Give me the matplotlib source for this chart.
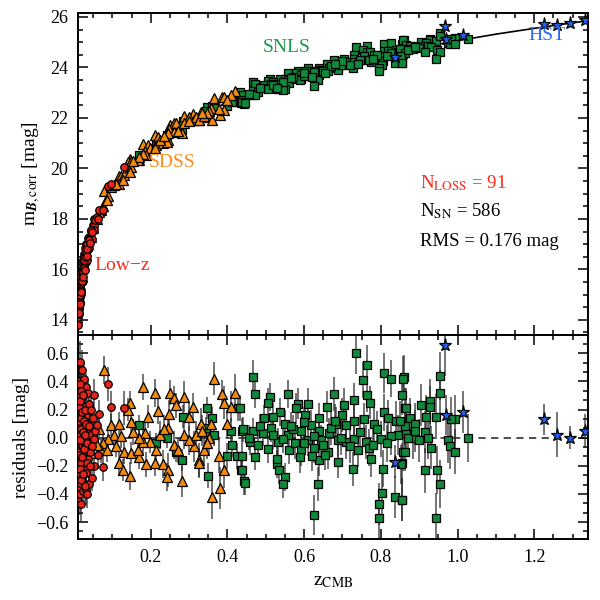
import numpy as np
import matplotlib
matplotlib.use('Agg')
import matplotlib.pyplot as plt
from matplotlib.ticker import MultipleLocator

plt.rcParams['font.family'] = ['Liberation Serif', 'DejaVu Serif']
plt.rcParams['mathtext.fontset'] = 'stix'

# best-fit model curve (z, m_B,corr)
model_z = [0.008, 0.01, 0.0125, 0.015, 0.02, 0.025, 0.03, 0.04, 0.05, 0.07, 0.1, 0.15,
           0.2, 0.3, 0.4, 0.5, 0.6, 0.7, 0.8, 0.9, 1.0, 1.1, 1.2, 1.3, 1.4]
model_m = [13.61, 14.10, 14.59, 14.99, 15.62, 16.11, 16.52, 17.16, 17.66, 18.42, 19.24, 20.19,
           20.89, 21.89, 22.62, 23.20, 23.69, 24.10, 24.46, 24.78, 25.06, 25.32, 25.55, 25.77, 25.97]

# Low-z sample: redshift, Hubble residual, error
lowz_z = [0.0105, 0.0108, 0.011, 0.011, 0.0115, 0.012, 0.012, 0.0125, 0.013, 0.013,
          0.0135, 0.014, 0.014, 0.015, 0.015, 0.016, 0.016, 0.017, 0.017, 0.018,
          0.018, 0.019, 0.020, 0.020, 0.021, 0.022, 0.022, 0.023, 0.023, 0.024,
          0.025, 0.026, 0.026, 0.027, 0.028, 0.029, 0.030, 0.031, 0.032, 0.032,
          0.033, 0.034, 0.035, 0.036, 0.037, 0.038, 0.040, 0.041, 0.043, 0.045,
          0.047, 0.049, 0.051, 0.052, 0.053, 0.056, 0.059, 0.062, 0.064, 0.075,
          0.088, 0.097, 0.131,
          0.0107, 0.0112, 0.0118, 0.0122, 0.0128, 0.0132, 0.0138, 0.0142, 0.0147, 0.0152,
          0.0158, 0.0163, 0.0168, 0.0175, 0.0182, 0.0188, 0.0195, 0.0205, 0.0215, 0.0225,
          0.0235, 0.0245, 0.0255, 0.0265, 0.0275, 0.0285, 0.0295, 0.031, 0.033, 0.035,
          0.039, 0.042, 0.044, 0.048]
lowz_res = [-0.30, -0.45, 0.10, -0.20, 0.25, -0.05, 0.35, -0.35, 0.15, -0.15,
            0.05, 0.30, -0.28, -0.08, 0.20, 0.40, -0.40, 0.54, 0.02, -0.18,
            0.12, -0.47, 0.28, -0.05, 0.08, 0.48, -0.30, -0.38, 0.18, -0.12,
            0.00, 0.42, -0.22, 0.22, 0.10, -0.06, 0.33, -0.25, 0.36, -0.37,
            0.05, -0.40, 0.15, 0.32, -0.15, 0.24, -0.33, 0.02, -0.10, 0.12,
            -0.29, 0.14, 0.30, -0.01, -0.20, 0.05, 0.09, -0.12, 0.17, -0.21,
            0.38, 0.22, 0.21,
            0.20, -0.10, 0.30, -0.25, 0.08, 0.22, -0.12, 0.12, -0.32, 0.38,
            -0.02, 0.26, -0.22, 0.14, -0.30, 0.06, 0.33, -0.14, 0.18, 0.04,
            -0.26, 0.30, -0.08, 0.12, -0.34, 0.20, 0.02, 0.10, -0.18, -0.04,
            0.08, -0.20, 0.20, -0.06]
lowz_err = [0.15, 0.18, 0.15, 0.14, 0.16, 0.12, 0.17, 0.15, 0.13, 0.12,
            0.12, 0.15, 0.14, 0.11, 0.12, 0.16, 0.15, 0.15, 0.10, 0.11,
            0.10, 0.12, 0.12, 0.09, 0.09, 0.14, 0.11, 0.12, 0.10, 0.09,
            0.08, 0.12, 0.10, 0.10, 0.09, 0.08, 0.11, 0.10, 0.10, 0.11,
            0.08, 0.10, 0.09, 0.10, 0.09, 0.09, 0.10, 0.08, 0.09, 0.09,
            0.09, 0.10, 0.12, 0.08, 0.09, 0.09, 0.09, 0.10, 0.10, 0.10,
            0.12, 0.11, 0.12,
            0.16, 0.15, 0.16, 0.15, 0.14, 0.14, 0.13, 0.13, 0.14, 0.15,
            0.12, 0.13, 0.12, 0.12, 0.13, 0.11, 0.12, 0.11, 0.11, 0.10,
            0.11, 0.11, 0.10, 0.10, 0.11, 0.10, 0.09, 0.09, 0.10, 0.09,
            0.09, 0.10, 0.09, 0.09]

# SDSS sample
sdss_z = [0.078, 0.179, 0.212, 0.251, 0.288, 0.366, 0.420, 0.387, 0.262, 0.147,
          0.142, 0.218, 0.309, 0.267, 0.249, 0.192, 0.299, 0.392, 0.409, 0.400,
          0.331, 0.357, 0.097, 0.118, 0.149, 0.105, 0.088, 0.075, 0.049, 0.071,
          0.086, 0.045, 0.123, 0.131, 0.149, 0.118, 0.127, 0.147, 0.184, 0.197,
          0.214, 0.210, 0.188, 0.170, 0.166, 0.231, 0.246, 0.243, 0.281, 0.262,
          0.270, 0.288, 0.314, 0.318, 0.327, 0.327, 0.340, 0.353, 0.360, 0.381,
          0.392, 0.379, 0.347, 0.244, 0.223, 0.179, 0.170, 0.060, 0.065, 0.110,
          0.155, 0.235, 0.300, 0.335]
sdss_res = [0.48, 0.36, 0.32, 0.32, 0.29, 0.42, 0.32, 0.31, 0.28, 0.25,
            0.20, 0.19, 0.22, 0.23, 0.17, 0.15, 0.15, 0.25, 0.22, 0.10,
            0.10, 0.10, 0.09, 0.10, 0.11, 0.02, -0.01, -0.04, 0.02, -0.09,
            -0.09, -0.11, 0.01, -0.10, -0.11, -0.18, -0.23, -0.27, 0.03, -0.03,
            -0.09, -0.18, -0.19, -0.14, -0.09, -0.19, -0.23, -0.28, -0.31, -0.05,
            -0.09, 0.02, -0.06, 0.02, -0.16, -0.18, -0.09, 0.00, -0.42, -0.36,
            -0.23, -0.13, -0.04, 0.07, 0.02, -0.03, 0.00, -0.05, 0.06, -0.06,
            0.04, 0.06, -0.02, 0.05]
sdss_err = [0.10, 0.09, 0.10, 0.09, 0.11, 0.12, 0.13, 0.10, 0.09, 0.08,
            0.08, 0.09, 0.10, 0.09, 0.10, 0.08, 0.10, 0.12, 0.11, 0.10,
            0.11, 0.12, 0.08, 0.08, 0.09, 0.08, 0.09, 0.08, 0.08, 0.09,
            0.08, 0.09, 0.08, 0.09, 0.08, 0.09, 0.08, 0.10, 0.09, 0.08,
            0.10, 0.09, 0.09, 0.08, 0.09, 0.10, 0.12, 0.10, 0.11, 0.10,
            0.09, 0.10, 0.11, 0.10, 0.12, 0.11, 0.10, 0.12, 0.16, 0.15,
            0.13, 0.12, 0.11, 0.09, 0.10, 0.09, 0.09, 0.08, 0.08, 0.08,
            0.09, 0.10, 0.10, 0.11]

# SNLS sample
snls_z = [0.169, 0.243, 0.283, 0.281, 0.348, 0.361, 0.344, 0.350, 0.400, 0.425,
          0.409, 0.427, 0.435, 0.444, 0.437, 0.411, 0.366, 0.214, 0.266,
          0.467, 0.471, 0.736, 0.764, 0.807, 0.827, 0.860, 0.753, 0.764, 0.772,
          0.855, 0.558, 0.510, 0.506, 0.536, 0.495, 0.519, 0.610, 0.584, 0.677,
          0.729, 0.703, 0.659, 0.808, 0.818, 0.863, 0.638, 0.601, 0.579, 0.432,
          0.549, 0.514, 0.441, 0.467, 0.493, 0.558, 0.592, 0.618, 0.640, 0.666,
          0.684, 0.710, 0.731, 0.757, 0.783, 0.840, 0.844, 0.866, 0.458, 0.480,
          0.506, 0.532, 0.560, 0.575, 0.592, 0.610, 0.627, 0.644, 0.662, 0.688,
          0.710, 0.731, 0.760, 0.801, 0.827, 0.439, 0.471, 0.588, 0.638, 0.688,
          0.727, 0.775, 0.805, 0.855, 0.859, 0.439, 0.447, 0.529, 0.534, 0.549,
          0.546, 0.636, 0.627, 0.803, 0.795, 0.796, 0.837, 0.855,
          0.859, 0.866, 0.905, 0.928, 0.927, 0.918, 0.944, 0.955, 0.955, 0.875,
          0.888, 0.862, 0.849, 0.914, 0.885, 0.899, 0.922, 0.976, 0.979, 0.931,
          0.994, 0.983, 0.994, 1.026, 0.862, 0.853, 0.916, 0.946, 0.954, 0.855,
          0.944, 0.520, 0.545, 0.570, 0.600, 0.625, 0.650, 0.670, 0.695, 0.720,
          0.745, 0.770, 0.790, 0.815, 0.485, 0.455, 0.600, 0.655, 0.700, 0.740,
          0.620, 0.680, 0.565, 0.530, 0.780, 0.870, 0.890]
snls_res = [0.09, 0.00, 0.15, -0.16, 0.21, 0.14, 0.07, -0.27, -0.13, -0.13,
            0.05, 0.21, -0.23, -0.31, 0.05, -0.05, 0.02, -0.04, -0.10,
            0.43, 0.31, 0.60, 0.52, 0.46, 0.42, 0.43, 0.41, 0.30, 0.25,
            0.30, 0.31, 0.29, 0.25, 0.18, 0.14, 0.15, 0.24, 0.24, 0.31,
            0.27, 0.23, 0.22, 0.18, 0.14, 0.21, 0.14, 0.16, 0.21, 0.21,
            0.10, 0.07, 0.06, 0.05, 0.03, 0.02, 0.05, 0.09, 0.05, 0.03,
            0.10, 0.09, 0.12, 0.13, 0.10, 0.12, 0.02, 0.03, -0.03, -0.05,
            -0.08, -0.03, -0.09, -0.04, -0.09, -0.02, -0.07, -0.02, -0.10, -0.02,
            -0.03, -0.01, -0.03, -0.01, 0.01, -0.13, -0.14, -0.14, -0.16, -0.17,
            -0.22, -0.15, -0.22, -0.18, -0.10, -0.23, -0.32, -0.19, -0.23, -0.28,
            -0.33, -0.33, -0.55, -0.39, -0.47, -0.57, -0.42, -0.44,
            0.42, 0.21, 0.23, 0.26, 0.22, 0.15, 0.15, 0.44, 0.32, 0.14,
            0.10, 0.08, 0.12, 0.04, 0.00, -0.02, 0.00, -0.02, -0.06, -0.07,
            0.13, 0.13, -0.10, 0.00, -0.10, -0.19, -0.23, -0.23, -0.33, -0.44,
            -0.57, 0.02, -0.01, 0.06, -0.04, 0.01, -0.05, 0.07, 0.00, -0.06,
            0.04, -0.07, 0.06, -0.04, 0.08, 0.00, 0.11, -0.12, 0.16, -0.09,
            -0.13, 0.12, 0.08, -0.15, -0.05, 0.00, 0.05]
snls_err = [0.07, 0.07, 0.08, 0.08, 0.08, 0.08, 0.08, 0.09, 0.09, 0.09,
            0.09, 0.09, 0.09, 0.10, 0.09, 0.09, 0.08, 0.07, 0.07,
            0.12, 0.10, 0.15, 0.14, 0.14, 0.13, 0.16, 0.13, 0.12, 0.12,
            0.14, 0.10, 0.10, 0.10, 0.10, 0.09, 0.10, 0.11, 0.11, 0.12,
            0.12, 0.12, 0.11, 0.13, 0.13, 0.14, 0.11, 0.11, 0.11, 0.09,
            0.10, 0.10, 0.09, 0.09, 0.09, 0.10, 0.10, 0.11, 0.11, 0.11,
            0.12, 0.12, 0.12, 0.12, 0.13, 0.14, 0.14, 0.14, 0.09, 0.10,
            0.10, 0.10, 0.10, 0.11, 0.11, 0.11, 0.11, 0.11, 0.12, 0.12,
            0.12, 0.12, 0.12, 0.13, 0.13, 0.09, 0.09, 0.11, 0.11, 0.12,
            0.12, 0.13, 0.13, 0.14, 0.14, 0.09, 0.09, 0.10, 0.10, 0.10,
            0.10, 0.12, 0.14, 0.15, 0.15, 0.16, 0.15, 0.15,
            0.16, 0.14, 0.15, 0.16, 0.15, 0.15, 0.16, 0.17, 0.16, 0.14,
            0.15, 0.14, 0.14, 0.15, 0.15, 0.15, 0.15, 0.16, 0.16, 0.15,
            0.17, 0.16, 0.16, 0.17, 0.14, 0.14, 0.16, 0.17, 0.17, 0.15,
            0.18, 0.10, 0.10, 0.10, 0.11, 0.11, 0.11, 0.12, 0.12, 0.12,
            0.12, 0.13, 0.13, 0.13, 0.09, 0.09, 0.11, 0.11, 0.12, 0.12,
            0.11, 0.12, 0.10, 0.10, 0.13, 0.14, 0.15]

# HST sample
hst_z = [0.836, 0.966, 0.970, 1.015, 1.224, 1.258, 1.293, 1.333]
hst_res = [-0.17, 0.66, 0.16, 0.18, 0.13, 0.02, 0.00, 0.05]
hst_err = [0.12, 0.22, 0.14, 0.15, 0.11, 0.16, 0.08, 0.12]

groups = [
    (snls_z, snls_res, snls_err, 's', '#11893a', 6.0),
    (sdss_z, sdss_res, sdss_err, '^', '#f28a0f', 7.0),
    (lowz_z, lowz_res, lowz_err, 'o', '#e5251a', 5.4),
    (hst_z, hst_res, hst_err, '*', '#1f5ff2', 9.5),
]

fig = plt.figure(figsize=(6, 6), dpi=100)
ax1 = fig.add_axes([0.13, 0.4417, 0.85, 0.5367])
ax2 = fig.add_axes([0.13, 0.1017, 0.85, 0.34])

ax1.plot(model_z, model_m, color='k', lw=1.2, zorder=1)
ax2.plot([0.0, 1.4], [0, 0], color='0.25', lw=1.3, ls=(0, (4, 3)), zorder=1)

for z, r, e, mk, col, ms in groups:
    z = np.array(z)
    r = np.array(r)
    e = np.array(e)
    mb = np.interp(z, model_z, model_m) + r
    for ax, y in ((ax1, mb), (ax2, r)):
        ax.errorbar(z, y, yerr=e, fmt='none', ecolor='#262626', elinewidth=1.2,
                    alpha=0.75, zorder=2)
        ax.plot(z, y, ls='none', marker=mk, ms=ms, mfc=col, mec='k', mew=0.9, zorder=3)

ax1.set_xlim(0.0105, 1.34)
ax2.set_xlim(0.0105, 1.34)
ax1.set_ylim(13.4, 26.16)
ax2.set_ylim(-0.72, 0.73)

for ax in (ax1, ax2):
    ax.xaxis.set_major_locator(MultipleLocator(0.2))
    ax.xaxis.set_minor_locator(MultipleLocator(0.05))
    ax.tick_params(which='both', direction='in', top=True, right=True, labelsize=13,
                   width=1.1)
    ax.tick_params(which='major', length=7, pad=7)
    ax.tick_params(which='minor', length=3.5)
    for s in ax.spines.values():
        s.set_linewidth(1.4)

ax1.yaxis.set_major_locator(MultipleLocator(2))
ax1.yaxis.set_minor_locator(MultipleLocator(0.5))
ax1.tick_params(labelbottom=False)
ax2.yaxis.set_minor_locator(MultipleLocator(0.2 / 3))
ax2.set_yticks([-0.6, -0.4, -0.2, 0.0, 0.2, 0.4, 0.6])
ax2.set_yticklabels(['\u22120.6', '\u22120.4', '\u22120.2', '0.0', '0.2', '0.4', '0.6'])

ax1.set_ylabel(r'm$_{\mathbfit{B}\mathrm{,corr}}$ [mag]', fontsize=14, labelpad=6)
ax2.set_ylabel('residuals [mag]', fontsize=14, labelpad=4)
ax2.set_xlabel(r'z$_{\mathrm{CMB}}$', fontsize=14, labelpad=5)

ax1.text(0.125, 16.15, 'Low\u2212z', color='#ff2a1a', fontsize=14, ha='center', va='center')
ax1.text(0.257, 20.24, 'SDSS', color='#ff8c1a', fontsize=14, ha='center', va='center')
ax1.text(0.554, 24.81, 'SNLS', color='#1a9a4a', fontsize=14, ha='center', va='center')
ax1.text(1.234, 25.28, 'HST', color='#2a6af0', fontsize=14, ha='center', va='center')

ax1.text(0.671, 0.473, r'N$_{\mathrm{LOSS}}$ = 91', color='#ff2a1a', fontsize=13.5,
         transform=ax1.transAxes, va='center')
ax1.text(0.671, 0.383, r'N$_{\mathrm{SN}}$ = 586', color='k', fontsize=13.5,
         transform=ax1.transAxes, va='center')
ax1.text(0.671, 0.290, 'RMS = 0.176 mag', color='k', fontsize=13.5,
         transform=ax1.transAxes, va='center')

fig.savefig('out.png', dpi=100)
